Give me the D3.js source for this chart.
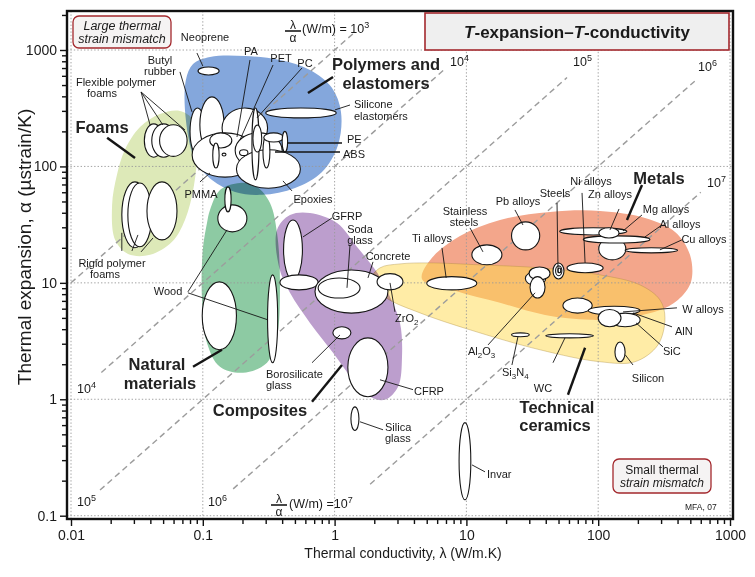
<!DOCTYPE html>
<html><head><meta charset="utf-8">
<script src="https://cdn.jsdelivr.net/npm/d3@7"></script>
<style>
body{margin:0;background:#fff}
svg{display:block}
text{font-family:"Liberation Sans",Arial,Helvetica,sans-serif;fill:#1a1a1a}
</style>
</head><body>
<svg id="chart" width="755" height="577"></svg>
<script>
// ---------------- DATA ----------------
const xTickValues = [0.01, 0.1, 1, 10, 100, 1000];
const xTickLabels = ["0.01", "0.1", "1", "10", "100", "1000"];
const yTickValues = [0.1, 1, 10, 100, 1000];
const yTickLabels = ["0.1", "1", "10", "100", "1000"];

// lambda/alpha guide lines (W/m) and the lambda span over which each is drawn
const guideValues = [1e3, 1e4, 1e5, 1e6, 1e7];
const guideLambdaFrom = [0.01, 0.017, 0.0166, 0.17, 1.86];
const guideLambdaTo = [1.45, 7, 58, 540, 600];

// envelopes: [lambda (W/m.K), alpha (ustrain/K)]
const foamsEnvelope = [[0.0223,84.5],[0.0256,138.6],[0.0334,218],[0.0473,282],[0.0671,300],[0.0843,251],[0.0903,139],[0.0858,69.3],[0.0732,34.7],[0.0584,22.5],[0.0398,17.4],[0.0271,17.7],[0.0216,23.4],[0.0205,46.7]];
const polymersEnvelope = [[0.0744,553],[0.0843,758],[0.1134,871],[0.2088,888],[0.385,821],[0.6506,674],[0.956,472],[1.118,294],[1.062,153],[0.8026,89.7],[0.5009,65.4],[0.2813,57],[0.1756,60.4],[0.1174,76.6],[0.0873,113.7],[0.0744,251]];
const naturalEnvelope = [[0.1134,42.3],[0.135,62.8],[0.1915,72.2],[0.2576,66.7],[0.3235,48.6],[0.3655,26.9],[0.385,10],[0.3655,3.44],[0.307,2.06],[0.2018,1.69],[0.135,1.9],[0.1076,3.05],[0.0986,7.14],[0.1,19.2],[0.1076,32.7]];
const compositesEnvelope = [[0.3655,28.5],[0.4587,38.3],[0.6506,39.9],[1.043,32.7],[1.477,20.4],[2.106,12.19],[2.633,7.57],[3.135,4.53],[3.246,2.31],[3.03,1.28],[2.41,0.99],[1.856,1.05],[1.379,1.47],[0.973,2.51],[0.6506,4.53],[0.4587,8.21],[0.379,13.7]];
const ceramicsEnvelope = [[1.889,10.6],[2.21,13.45],[3.135,14.55],[5.295,14.84],[12.68,14.27],[36.2,13.45],[103.2,11.7],[207.6,9.6],[294,7.14],[321,5.0],[283.9,2.93],[190.1,2.1],[103.2,2.1],[36.2,2.66],[10.65,3.95],[4.446,5.52],[2.41,7.57]];
const metalsEnvelope = [[4.604,10.81],[5.483,16.39],[8.94,25.3],[17.98,34.7],[43.1,40.66],[103.2,41.47],[226.5,36.1],[382.9,27.4],[497,17.4],[505.7,10.19],[402.7,7.14],[283.9,5.75],[160.4,5.0],[86.7,4.81],[39.5,5.3],[17.98,6.73],[8.19,8.54]];

// material bubbles: [name, lambda min, lambda max, alpha min, alpha max]
const materials = [
  ["Flexible polymer foams",0.036,0.050,120,232],
  ["Flexible polymer foams",0.041,0.062,120,232],
  ["Flexible polymer foams",0.047,0.076,122,228],
  ["Rigid polymer foams",0.0243,0.0384,20,73.6],
  ["Rigid polymer foams",0.027,0.041,20.4,72],
  ["Rigid polymer foams",0.0377,0.0637,23.4,73.6],
  ["Neoprene",0.092,0.133,610,715],
  ["Butyl rubber",0.080,0.104,125,318],
  ["Butyl rubber",0.095,0.145,131,396],
  ["PA",0.14,0.31,144,318],
  ["PMMA",0.083,0.262,81,194],
  ["PET",0.176,0.40,97,194],
  ["Epoxies",0.18,0.55,65,139],
  ["PS",0.113,0.166,144,194],
  ["PMMA",0.119,0.133,97,159],
  ["PC",0.236,0.267,76.6,318],
  ["PP",0.24,0.28,133,227],
  ["ABS",0.286,0.323,97,185],
  ["PE",0.29,0.41,162,194],
  ["PE",0.40,0.44,133,200],
  ["Silicone elastomers",0.30,1.03,261,318],
  ["PU",0.19,0.22,124,139],
  ["PVC",0.14,0.15,123,130],
  ["Wood",0.13,0.216,27.4,46.7],
  ["Wood",0.147,0.164,40.7,66.7],
  ["Wood",0.099,0.18,2.66,10.2],
  ["Wood",0.31,0.37,2.06,11.7],
  ["GFRP",0.41,0.57,10.6,34.7],
  ["GFRP",0.385,0.75,8.7,11.7],
  ["Concrete",0.71,2.54,5.5,12.9],
  ["Soda glass",0.75,1.56,7.4,11.0],
  ["ZrO2",2.1,3.3,8.7,12.0],
  ["Borosilicate glass",0.97,1.33,3.3,4.2],
  ["CFRP",1.26,2.54,1.05,3.37],
  ["Silica glass",1.33,1.53,0.54,0.86],
  ["Invar",8.8,10.8,0.137,0.63],
  ["Ti alloys",5.0,12.0,8.7,11.3],
  ["Stainless steels",11.0,18.6,14.3,21.2],
  ["Pb alloys",22,36,19.2,33.4],
  ["Steels",28,40,9.5,12.5],
  ["Steels",29.9,43.1,10.6,13.7],
  ["Al2O3",30.4,39.5,7.4,11.3],
  ["Steels",45.4,55,10.8,14.8],
  ["Steels",47.5,53,11.5,14],
  ["Steels",49.5,52,12.2,13.4],
  ["Ni alloys",58,109,12.2,14.8],
  ["Mg alloys",101,162,15.75,24.3],
  ["Zn alloys",51,165,25.8,29.7],
  ["Al alloys",77,247,22,25.3],
  ["Zn alloys",101,144,24.3,29.7],
  ["Cu alloys",160,400,18.1,20],
  ["W alloys",54,90,5.5,7.4],
  ["W alloys",84,208,5.3,6.3],
  ["SiC",123,208,4.2,5.5],
  ["AlN",100,149,4.2,5.9],
  ["Si3N4",22,30,3.44,3.72],
  ["WC",40,92,3.37,3.65],
  ["Silicon",134,160,2.1,3.1]
];

// leader lines: [lambda1, alpha1, lambda2, alpha2, weight class]
const leaders = [
  [0.0903,942,0.1,729,0],
  [0.0671,648,0.0828,294,0],
  [0.034,436,0.0398,227,0],[0.034,436,0.0498,227,0],[0.034,436,0.0732,206,0],
  [0.0188,176,0.0306,118,1],
  [0.228,821,0.1817,179,0],
  [0.341,743,0.1915,169,0],
  [0.566,701,0.2576,261,0],
  [0.973,587,0.628,428,1],
  [1.309,337,1.007,306,0],
  [1.138,159,0.436,159,2],
  [1.099,133,0.353,133,2],
  [0.0952,73.6,0.1134,87.9,0],
  [0.475,61.6,0.4056,75.1,0],
  [0.0243,18.8,0.0243,26.9,0],[0.029,18.8,0.0322,25.8,0],[0.034,18.45,0.0419,24.3,0],
  [0.956,36.1,0.5757,24.8,0],
  [1.309,21.2,1.242,9.06,0],
  [1.956,15.14,1.792,11.03,0],
  [2.87,5.63,2.633,9.99,0],
  [0.0771,8.37,0.1526,28.5,0],[0.0771,8.21,0.312,4.81,0],
  [0.0843,1.90,0.1398,2.66,1],
  [0.674,2.06,1.099,3.57,0],
  [0.674,0.952,1.138,1.97,1],
  [3.935,1.21,2.21,1.47,0],
  [2.33,0.547,1.558,0.641,0],
  [13.84,0.238,11.03,0.273,0],
  [6.53,19.97,7.02,11.03,0],
  [10.65,29.65,13.36,18.45,0],
  [23.35,42.3,26.87,31.4,0],
  [48.7,48.6,49.6,12.19,0],
  [75.4,59.2,79.5,14.84,0],
  [143.9,43.1,122.9,28.5,0],
  [215,38.3,154.3,27.9,0],
  [304.5,31.4,226.5,24.8,0],
  [431.8,23.4,294,19.2,0],
  [215,69.3,165.3,34.7,1],
  [396,6.1,154.3,5.63,0],
  [363,4.19,183.7,5.52,0],
  [309.8,2.82,193.7,4.53,0],
  [14.6,2.93,33.2,8.21,0],
  [22.16,1.97,24.6,3.44,0],
  [45.4,2.06,56,3.37,0],
  [58.97,1.094,79.5,2.77,1],
  [183.7,1.97,160.4,2.41,0]
];

// ---------------- LAYOUT ----------------
const W = 755, H = 577;
const frame = {l: 67, t: 11, r: 733, b: 519};
const x = d3.scaleLog().domain([0.01, 1000]).range([71, 730]);
const y = d3.scaleLog().domain([0.1, 1000]).range([515.7, 50]);
const svg = d3.select("#chart");

const isDecade = d => Math.abs(Math.log10(d) - Math.round(Math.log10(d))) < 1e-9;

// envelopes
const envLine = d3.line().x(d => x(d[0])).y(d => y(d[1])).curve(d3.curveCatmullRomClosed.alpha(0.5));
const gEnv = svg.append("g");
const multiplyEnvelopes = [
  [foamsEnvelope, "#dde9b8"],
  [naturalEnvelope, "#8dcaa3"],
  [polymersEnvelope, "#84a7dc"],
  [compositesEnvelope, "#bc9ecd"]
];
gEnv.append("path").attr("d", envLine(metalsEnvelope)).attr("fill", "#f3a68b");
gEnv.append("path").attr("d", envLine(ceramicsEnvelope))
  .attr("fill", "rgb(255,218,78)").attr("fill-opacity", 0.5)
  .attr("stroke", "rgba(170,140,60,0.55)").attr("stroke-width", 0.7);
gEnv.selectAll("path.m").data(multiplyEnvelopes).join("path").attr("class", "m")
  .attr("d", d => envLine(d[0]))
  .attr("fill", d => d[1])
  .style("mix-blend-mode", "multiply");

// grid
const gGrid = svg.append("g").attr("stroke", "#9a9a9a").attr("stroke-width", 0.9).attr("stroke-dasharray", "1.4,2");
gGrid.selectAll("line.v").data(xTickValues).join("line").attr("class", "v")
  .attr("x1", d => x(d)).attr("x2", d => x(d)).attr("y1", frame.t).attr("y2", frame.b);
gGrid.selectAll("line.h").data(yTickValues).join("line").attr("class", "h")
  .attr("y1", d => y(d)).attr("y2", d => y(d)).attr("x1", frame.l).attr("x2", frame.r);

// guide lines lambda/alpha = C  ->  alpha[ustrain/K] = lambda*1e6/C
const gGuide = svg.append("g");
gGuide.selectAll("line").data(guideValues).join("line")
  .attr("x1", (c, i) => x(guideLambdaFrom[i])).attr("y1", (c, i) => y(guideLambdaFrom[i] * 1e6 / c))
  .attr("x2", (c, i) => x(guideLambdaTo[i])).attr("y2", (c, i) => y(guideLambdaTo[i] * 1e6 / c))
  .attr("stroke", "#9c9c9c").attr("stroke-width", 1.4).attr("stroke-dasharray", "6,4");

// bubbles
const gMat = svg.append("g");
gMat.selectAll("ellipse").data(materials).join("ellipse")
  .attr("cx", d => (x(d[1]) + x(d[2])) / 2)
  .attr("cy", d => (y(d[3]) + y(d[4])) / 2)
  .attr("rx", d => Math.abs(x(d[2]) - x(d[1])) / 2)
  .attr("ry", d => Math.abs(y(d[3]) - y(d[4])) / 2)
  .attr("fill", "#fff").attr("stroke", "#151515").attr("stroke-width", 1.1);

// leaders
const gLead = svg.append("g");
gLead.selectAll("line").data(leaders).join("line")
  .attr("x1", d => x(d[0])).attr("y1", d => y(d[1]))
  .attr("x2", d => x(d[2])).attr("y2", d => y(d[3]))
  .attr("stroke", "#151515")
  .attr("stroke-width", d => d[4] === 1 ? 2.4 : d[4] === 2 ? 1.6 : 0.9);

// frame
svg.append("rect").attr("x", frame.l).attr("y", frame.t)
  .attr("width", frame.r - frame.l).attr("height", frame.b - frame.t)
  .attr("fill", "none").attr("stroke", "#111").attr("stroke-width", 2.4);

// axes
const xAll = [], yAll = [];
[0.01, 0.1, 1, 10, 100].forEach(dec => { for (let k = 1; k < 10; k++) xAll.push(+(dec * k).toPrecision(6)); });
xAll.push(1000);
[0.1, 1, 10, 100].forEach(dec => { for (let k = 1; k < 10; k++) yAll.push(+(dec * k).toPrecision(6)); });
yAll.push(1000, 2000);

const xAxis = d3.axisBottom(x).tickValues(xAll).tickSize(5).tickPadding(6)
  .tickFormat(d => { const i = xTickValues.findIndex(v => Math.abs(v - d) < 1e-9 * v); return i >= 0 ? xTickLabels[i] : ""; });
const gx = svg.append("g").attr("transform", `translate(0,${frame.b})`).call(xAxis);
gx.select(".domain").remove();
gx.selectAll(".tick line").attr("stroke", "#111").attr("stroke-width", 1.4).attr("y2", d => isDecade(d) ? 7 : 5);
gx.selectAll(".tick text").attr("font-size", 14).attr("fill", "#1a1a1a").attr("y", 11)
  .style("font-family", '"Liberation Sans",Arial,sans-serif');

const yAxis = d3.axisLeft(y).tickValues(yAll).tickSize(5).tickPadding(6)
  .tickFormat(d => { const i = yTickValues.findIndex(v => Math.abs(v - d) < 1e-9 * v); return i >= 0 ? yTickLabels[i] : ""; });
const gy = svg.append("g").attr("transform", `translate(${frame.l},0)`).call(yAxis);
gy.select(".domain").remove();
gy.selectAll(".tick line").attr("stroke", "#111").attr("stroke-width", 1.4).attr("x2", d => isDecade(d) ? -7 : -5);
gy.selectAll(".tick text").attr("font-size", 14).attr("fill", "#1a1a1a").attr("x", -10)
  .style("font-family", '"Liberation Sans",Arial,sans-serif');

// axis titles
svg.append("text").attr("x", 403).attr("y", 558).attr("text-anchor", "middle").attr("font-size", 14)
  .text("Thermal conductivity, \u03bb  (W/m.K)");
svg.append("text").attr("transform", "translate(31,247) rotate(-90)").attr("text-anchor", "middle").attr("font-size", 19)
  .text("Thermal expansion, \u03b1  (\u00b5strain/K)");

// ---------------- ANNOTATIONS ----------------
// rich text: "_2" -> subscript, "^4" -> superscript
function rich(g, str, px, py, size, anchor, opts = {}) {
  const t = g.append("text").attr("x", px).attr("y", py).attr("font-size", size)
    .attr("text-anchor", anchor || "start");
  if (opts.bold) t.attr("font-weight", "bold");
  if (opts.italic) t.attr("font-style", "italic");
  const re = /([_^])(\d+)|([^_^]+)/g;
  let m, shift = 0;
  while ((m = re.exec(str)) !== null) {
    if (m[3]) {
      t.append("tspan").attr("dy", -shift).text(m[3]); shift = 0;
    } else {
      const s = m[1] === "_" ? size * 0.28 : -size * 0.38;
      t.append("tspan").attr("dy", s - shift).attr("font-size", size * 0.72).text(m[2]); shift = s;
    }
  }
  return t;
}
const gTxt = svg.append("g");
const smallLabels = [
  ["Neoprene",205,41,"middle"],["Butyl",160,64,"middle"],["rubber",160,75,"middle"],
  ["Flexible polymer",116,86,"middle"],["foams",102,97,"middle"],
  ["PA",251,55,"middle"],["PET",281,62,"middle"],["PC",305,67,"middle"],
  ["Silicone",354,108,"start"],["elastomers",354,120,"start"],
  ["PE",347,143,"start"],["ABS",343,158,"start"],
  ["PMMA",201,198,"middle"],["Epoxies",313,203,"middle"],
  ["Rigid polymer",112,267,"middle"],["foams",105,278,"middle"],
  ["GFRP",347,220,"middle"],["Soda",360,233,"middle"],["glass",360,244,"middle"],
  ["Concrete",388,260,"middle"],["ZrO_2",395,322,"start"],["Wood",168,295,"middle"],
  ["Borosilicate",266,378,"start"],["glass",266,389,"start"],["CFRP",414,395,"start"],
  ["Silica",385,431,"start"],["glass",385,442,"start"],["Invar",487,478,"start"],
  ["Ti alloys",432,242,"middle"],["Stainless",465,215,"middle"],["steels",464,226,"middle"],
  ["Pb alloys",518,205,"middle"],["Steels",555,197,"middle"],["Ni alloys",591,185,"middle"],
  ["Zn alloys",610,198,"middle"],["Mg alloys",666,213,"middle"],["Al alloys",680,228,"middle"],
  ["Cu alloys",704,243,"middle"],["W alloys",703,313,"middle"],["AlN",675,335,"start"],
  ["SiC",663,355,"start"],["Al_2O_3",468,355,"start"],["Si_3N_4",502,376,"start"],
  ["WC",543,392,"middle"],["Silicon",648,382,"middle"]
];
smallLabels.forEach(l => rich(gTxt, l[0], l[1], l[2], 11, l[3]));

const bigLabels = [
  ["Foams",102,133],["Polymers and",386,70],["elastomers",386,89],
  ["Natural",157,370],["materials",160,389],["Composites",260,416],
  ["Metals",659,184],["Technical",557,413],["ceramics",555,431]
];
bigLabels.forEach(l => rich(gTxt, l[0], l[1], l[2], 16.5, "middle", {bold: true}).style("fill", "#222"));

// guide value labels
const guideLabels = [["10^4",450,66],["10^5",573,66],["10^6",698,71],["10^7",707,187],["10^4",77,393],["10^5",77,506],["10^6",208,506]];
guideLabels.forEach(l => rich(gTxt, l[0], l[1], l[2], 12.5, "start"));
// fraction labels
function fraction(cx, by, restX, restY, rest) {
  gTxt.append("text").attr("x", cx).attr("y", by - 2).attr("text-anchor", "middle").attr("font-size", 12).text("\u03bb");
  gTxt.append("line").attr("x1", cx - 8).attr("x2", cx + 8).attr("y1", by).attr("y2", by).attr("stroke", "#1a1a1a").attr("stroke-width", 1.6);
  gTxt.append("text").attr("x", cx).attr("y", by + 11).attr("text-anchor", "middle").attr("font-size", 12).text("\u03b1");
  rich(gTxt, rest, restX, restY, 12.5, "start");
}
fraction(293, 31, 302, 33, "(W/m) = 10^3");
fraction(279, 505, 289, 508, "(W/m) =10^7");

// title box
svg.append("rect").attr("x", 425).attr("y", 13).attr("width", 304).attr("height", 37)
  .attr("fill", "#efefef").attr("stroke", "#a3282d").attr("stroke-width", 1.6);
const tt = svg.append("text").attr("x", 577).attr("y", 38).attr("text-anchor", "middle")
  .attr("font-size", 17).attr("font-weight", "bold");
tt.append("tspan").attr("font-style", "italic").text("T");
tt.append("tspan").text("-expansion\u2013");
tt.append("tspan").attr("font-style", "italic").text("T");
tt.append("tspan").text("-conductivity");

// mismatch boxes
svg.append("rect").attr("x", 73).attr("y", 16).attr("width", 98).attr("height", 32).attr("rx", 6)
  .attr("fill", "#f5f3f3").attr("stroke", "#a3282d").attr("stroke-width", 1.3);
svg.append("text").attr("x", 122).attr("y", 30).attr("text-anchor", "middle").attr("font-size", 12.5).attr("font-style", "italic").text("Large thermal");
svg.append("text").attr("x", 122).attr("y", 43).attr("text-anchor", "middle").attr("font-size", 12.5).attr("font-style", "italic").text("strain mismatch");

svg.append("rect").attr("x", 613).attr("y", 459).attr("width", 98).attr("height", 34).attr("rx", 6)
  .attr("fill", "#f5f3f3").attr("stroke", "#a3282d").attr("stroke-width", 1.3);
svg.append("text").attr("x", 662).attr("y", 474).attr("text-anchor", "middle").attr("font-size", 12).text("Small thermal");
svg.append("text").attr("x", 662).attr("y", 487).attr("text-anchor", "middle").attr("font-size", 12).attr("font-style", "italic").text("strain mismatch");

svg.append("text").attr("x", 685).attr("y", 510).attr("font-size", 8.5).text("MFA, 07");
</script>
</body></html>
